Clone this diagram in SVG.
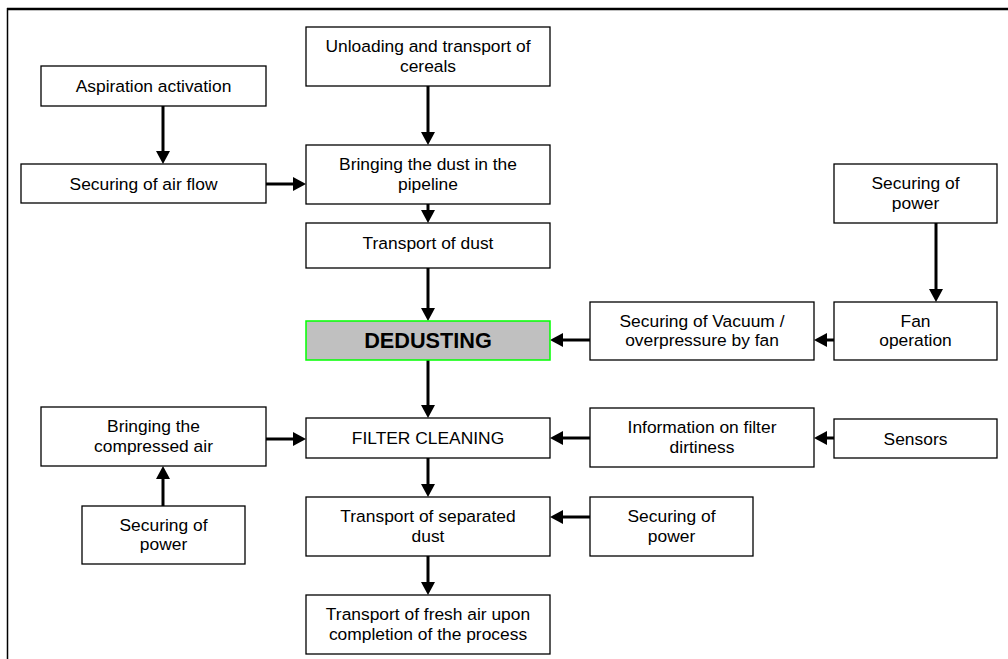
<svg xmlns="http://www.w3.org/2000/svg" width="1008" height="659" viewBox="0 0 1008 659">
<defs>
<style>
.box{fill:#fff;stroke:#000;stroke-width:1.3}
.hl{fill:#c0c0c0;stroke:#00ff00;stroke-width:1.5}
text{font-family:"Liberation Sans",Arial,sans-serif;font-size:17.4px;fill:#000;text-anchor:middle}
.b{font-weight:bold;font-size:21.7px}
.c{stroke:#000;stroke-width:3;fill:none;marker-end:url(#ah)}
</style>
<marker id="ah" markerUnits="userSpaceOnUse" markerWidth="14" markerHeight="14" refX="1" refY="7" orient="auto" viewBox="0 0 14 14">
<path d="M0,0 L13,7 L0,14 z" fill="#000"/>
</marker>
</defs>
<rect width="1008" height="659" fill="#fff"/>
<g id="frame">
<line x1="7" y1="9" x2="1008" y2="9" stroke="#000" stroke-width="2.5"/>
<line x1="7.5" y1="8" x2="7.5" y2="659" stroke="#000" stroke-width="1.5"/>
</g>
<g id="connectors">
<line class="c" x1="163" y1="106" x2="163" y2="152"/>
<line class="c" x1="266" y1="184" x2="294" y2="184"/>
<line class="c" x1="428" y1="86" x2="428" y2="133"/>
<line class="c" x1="428" y1="204" x2="428" y2="211"/>
<line class="c" x1="428" y1="268" x2="428" y2="309"/>
<line class="c" x1="936" y1="223" x2="936" y2="290"/>
<line class="c" x1="834" y1="340" x2="826" y2="340"/>
<line class="c" x1="590" y1="340" x2="562" y2="340"/>
<line class="c" x1="428" y1="360" x2="428" y2="406"/>
<line class="c" x1="266" y1="439" x2="294" y2="439"/>
<line class="c" x1="590" y1="438" x2="562" y2="438"/>
<line class="c" x1="834" y1="438" x2="826" y2="438"/>
<line class="c" x1="163" y1="506" x2="163" y2="478"/>
<line class="c" x1="428" y1="458" x2="428" y2="485"/>
<line class="c" x1="590" y1="517" x2="562" y2="517"/>
<line class="c" x1="428" y1="556" x2="428" y2="583"/>
</g>
<g id="n-aspiration"><rect class="box" x="41" y="66" width="225" height="40"/><text x="153.5" y="92">Aspiration activation</text></g>
<g id="n-airflow"><rect class="box" x="21" y="164" width="245" height="39"/><text x="143.5" y="189.5">Securing of air flow</text></g>
<g id="n-unloading"><rect class="box" x="306" y="27" width="244" height="59"/><text x="428" y="52">Unloading and transport of</text><text x="428" y="71.5">cereals</text></g>
<g id="n-bringdust"><rect class="box" x="306" y="145" width="244" height="59"/><text x="428" y="170">Bringing the dust in the</text><text x="428" y="189.5">pipeline</text></g>
<g id="n-transdust"><rect class="box" x="306" y="223" width="244" height="45"/><text x="428" y="248.5">Transport of dust</text></g>
<g id="n-dedusting"><rect class="hl" x="306" y="321" width="244" height="39"/><text class="b" x="428" y="348">DEDUSTING</text></g>
<g id="n-filter"><rect class="box" x="306" y="418" width="244" height="40"/><text x="428" y="444">FILTER CLEANING</text></g>
<g id="n-separated"><rect class="box" x="306" y="497" width="244" height="59"/><text x="428" y="522">Transport of separated</text><text x="428" y="541.5">dust</text></g>
<g id="n-fresh"><rect class="box" x="306" y="595" width="244" height="59"/><text x="428" y="620">Transport of fresh air upon</text><text x="428" y="639.5">completion of the process</text></g>
<g id="n-power-top"><rect class="box" x="834" y="164" width="163" height="59"/><text x="915.5" y="189">Securing of</text><text x="915.5" y="208.5">power</text></g>
<g id="n-fan"><rect class="box" x="834" y="302" width="163" height="58"/><text x="915.5" y="326.5">Fan</text><text x="915.5" y="346">operation</text></g>
<g id="n-vacuum"><rect class="box" x="590" y="302" width="224" height="58"/><text x="702" y="326.5">Securing of Vacuum /</text><text x="702" y="346">overpressure by fan</text></g>
<g id="n-info"><rect class="box" x="590" y="408" width="224" height="59"/><text x="702" y="433">Information on filter</text><text x="702" y="452.5">dirtiness</text></g>
<g id="n-sensors"><rect class="box" x="834" y="419" width="163" height="39"/><text x="915.5" y="444.5">Sensors</text></g>
<g id="n-power-mid"><rect class="box" x="590" y="497" width="163" height="59"/><text x="671.5" y="522">Securing of</text><text x="671.5" y="541.5">power</text></g>
<g id="n-compair"><rect class="box" x="41" y="407" width="225" height="59"/><text x="153.5" y="432">Bringing the</text><text x="153.5" y="451.5">compressed air</text></g>
<g id="n-power-left"><rect class="box" x="82" y="506" width="163" height="58"/><text x="163.5" y="530.5">Securing of</text><text x="163.5" y="550">power</text></g>
</svg>
